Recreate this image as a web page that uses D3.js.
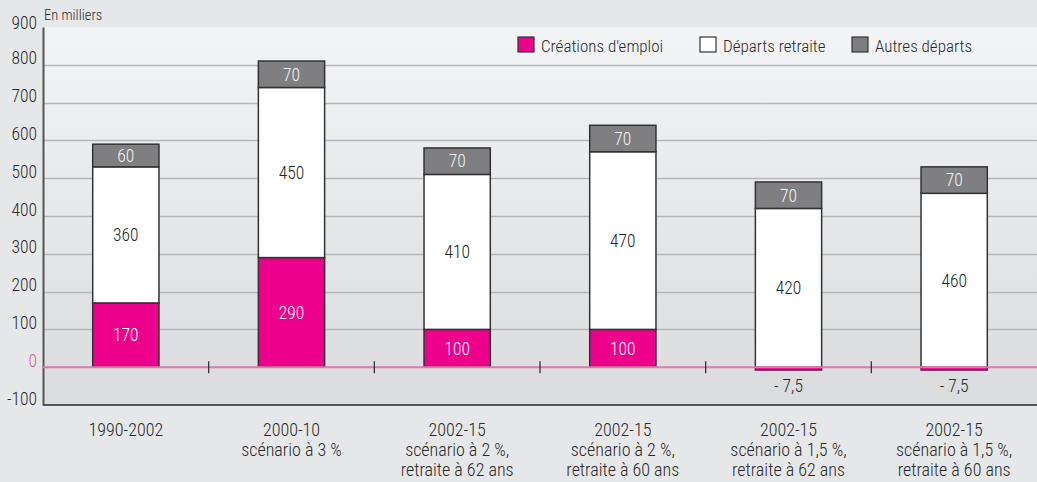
<!DOCTYPE html>
<html>
<head>
<meta charset="utf-8">
<script src="https://cdn.jsdelivr.net/npm/d3@7"></script>
<style>
  html, body { margin: 0; padding: 0; background: #e6e7e9; }
  svg { display: block; }
  text { font-family: "Roboto Condensed", "DejaVu Sans Condensed", "Liberation Sans", sans-serif; font-weight: 350; }
</style>
</head>
<body>
<svg id="chart" width="1037" height="482"></svg>
<script>
// Périodes / scénarios (une ligne de libellé par élément)
const categories = [
  ["1990-2002"],
  ["2000-10", "scénario à 3 %"],
  ["2002-15", "scénario à 2 %,", "retraite à 62 ans"],
  ["2002-15", "scénario à 2 %,", "retraite à 60 ans"],
  ["2002-15", "scénario à 1,5 %,", "retraite à 62 ans"],
  ["2002-15", "scénario à 1,5 %,", "retraite à 60 ans"]
];
const seriesNames = ["Créations d'emploi", "Départs retraite", "Autres départs"];
const creations = [170, 290, 100, 100, -7.5, -7.5];
const departsRetraite = [360, 450, 410, 470, 420, 460];
const autresDeparts = [60, 70, 70, 70, 70, 70];
const yTicks = [-100, 0, 100, 200, 300, 400, 500, 600, 700, 800, 900];

const colors = ["#ec008c", "#ffffff", "#7f7f82"];
const labelColors = ["#ffffff", "#222222", "#f2f2f2"];

const W = 1037, H = 482;
const margin = { left: 43, right: 0, top: 27, bottom: 77 };
const svg = d3.select("#chart");

const x = d3.scaleBand()
  .domain(d3.range(categories.length))
  .range([margin.left, W - margin.right])
  .paddingInner(0.6).paddingOuter(0.3);
const y = d3.scaleLinear().domain([-100, 900]).range([H - margin.bottom, margin.top]);

// Fond de la zone de tracé (dégradé vertical)
const defs = svg.append("defs");
const grad = defs.append("linearGradient").attr("id", "plotBg")
  .attr("x1", 0).attr("y1", 0).attr("x2", 0).attr("y2", 1);
grad.append("stop").attr("offset", "0%").attr("stop-color", "#f3f4f5");
grad.append("stop").attr("offset", "100%").attr("stop-color", "#dadbdd");

svg.append("rect")
  .attr("x", margin.left).attr("y", margin.top)
  .attr("width", W - margin.left - margin.right)
  .attr("height", y(-100) - margin.top)
  .attr("fill", "url(#plotBg)");

// Quadrillage horizontal
svg.append("g").selectAll("line")
  .data(yTicks.filter(d => d > 0 && d < 900))
  .join("line")
  .attr("x1", margin.left).attr("x2", W)
  .attr("y1", d => Math.round(y(d)) + 0.5).attr("y2", d => Math.round(y(d)) + 0.5)
  .attr("stroke", "#b6b7ba").attr("stroke-width", 1.5);

// Axe vertical : libellés posés sur les lignes du quadrillage
const yAxis = d3.axisLeft(y).tickValues(yTicks).tickSize(0).tickPadding(6)
  .tickFormat(d => String(d));
const gy = svg.append("g").attr("transform", `translate(${margin.left},0)`).call(yAxis);
gy.attr("font-family", null);
gy.select(".domain").attr("stroke", "#555").attr("stroke-width", 2);
gy.selectAll(".tick text")
  .attr("font-size", 17.5).attr("fill", d => d === 0 ? "#e8559f" : "#2a2a2a")
  .attr("dy", d => d === 900 ? "0.1em" : "-0.05em");

// Axe du bas
svg.append("line")
  .attr("x1", margin.left).attr("x2", W)
  .attr("y1", y(-100)).attr("y2", y(-100))
  .attr("stroke", "#555").attr("stroke-width", 2);

svg.append("text").attr("x", 44).attr("y", 20)
  .attr("font-size", 14.5).attr("fill", "#2a2a2a").text("En milliers");

// Empilement des séries
const rows = categories.map((c, i) => ({ i, v: [creations[i], departsRetraite[i], autresDeparts[i]] }));
const segs = [];
rows.forEach(r => {
  let pos = 0;
  r.v.forEach((val, s) => {
    let y0, y1;
    if (val < 0) { y0 = val; y1 = 0; }
    else { y0 = pos; y1 = pos + val; pos = y1; }
    segs.push({ i: r.i, s, val, y0, y1 });
  });
});

const gBars = svg.append("g");
gBars.selectAll("rect").data(segs).join("rect")
  .attr("x", d => x(d.i))
  .attr("width", x.bandwidth())
  .attr("y", d => y(d.y1))
  .attr("height", d => y(d.y0) - y(d.y1))
  .attr("fill", d => colors[d.s])
  .attr("stroke", d => d.val < 0 ? "#6a1f4a" : "#333")
  .attr("stroke-width", 1.5);

// Ligne du zéro
svg.append("line")
  .attr("x1", margin.left).attr("x2", W)
  .attr("y1", y(0)).attr("y2", y(0))
  .attr("stroke", "#e673b3").attr("stroke-width", 2);

// Graduations entre catégories sur la ligne du zéro
const step = x.step();
svg.append("g").selectAll("line")
  .data(d3.range(1, categories.length))
  .join("line")
  .attr("x1", d => x(d) - step * x.paddingInner() / 2)
  .attr("x2", d => x(d) - step * x.paddingInner() / 2)
  .attr("y1", y(0) - 6).attr("y2", y(0) + 6)
  .attr("stroke", "#333").attr("stroke-width", 1.3);

// Étiquettes de valeurs
const fmt = v => v < 0 ? "- " + String(Math.abs(v)).replace(".", ",") : String(v);
svg.append("g").selectAll("text").data(segs).join("text")
  .attr("x", d => x(d.i) + x.bandwidth() / 2)
  .attr("y", d => d.val < 0 ? y(d.y0) + 16 : y((d.y0 + d.y1) / 2))
  .attr("dy", "0.36em")
  .attr("text-anchor", "middle")
  .attr("font-size", 17.5)
  .attr("fill", d => d.val < 0 ? "#2a2a2a" : labelColors[d.s])
  .text(d => fmt(d.val));

// Libellés des catégories
const gx = svg.append("g");
categories.forEach((lines, i) => {
  const cx = x(i) + x.bandwidth() / 2;
  const t = gx.append("text")
    .attr("x", cx)
    .attr("y", 436)
    .attr("text-anchor", "middle")
    .attr("font-size", 18)
    .attr("fill", "#2a2a2a");
  lines.forEach((l, k) => t.append("tspan")
    .attr("x", cx)
    .attr("dy", k === 0 ? 0 : 20)
    .text(l));
});

// Légende
const legendX = [518, 700, 852];
const gl = svg.append("g");
seriesNames.forEach((name, s) => {
  gl.append("rect")
    .attr("x", legendX[s]).attr("y", 37).attr("width", 16).attr("height", 15)
    .attr("fill", colors[s]).attr("stroke", "#333").attr("stroke-width", 1.2);
  gl.append("text")
    .attr("x", legendX[s] + 23).attr("y", 52)
    .attr("font-size", 17).attr("fill", "#2a2a2a")
    .text(name);
});
</script>
</body>
</html>
